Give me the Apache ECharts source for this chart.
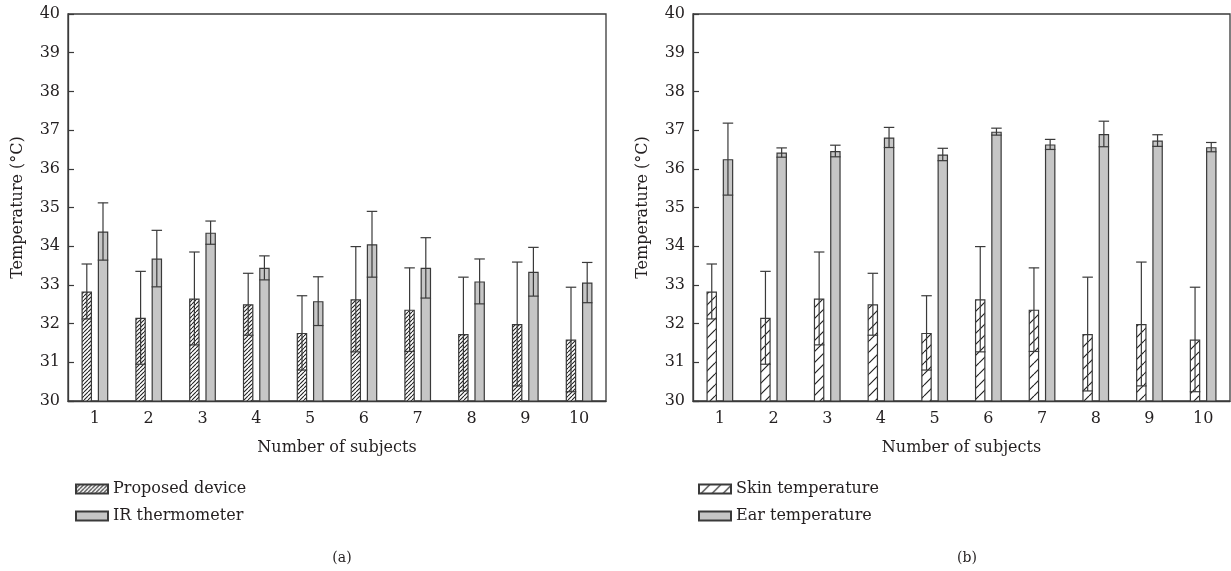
<!DOCTYPE html>
<html>
<head>
<meta charset="utf-8">
<script src="https://cdn.jsdelivr.net/npm/echarts@6/dist/echarts.min.js"></script>
<style>
  html, body { margin: 0; padding: 0; background: #fff; }
  #chart { width: 1231px; height: 571px; }
</style>
</head>
<body>
<div id="chart"></div>
<script>
// data
const subjects = ['1', '2', '3', '4', '5', '6', '7', '8', '9', '10'];
const deviceMean = [32.83, 32.15, 32.65, 32.5, 31.76, 32.63, 32.36, 31.73, 31.99, 31.59];
const deviceSd = [0.71, 1.2, 1.2, 0.8, 0.96, 1.36, 1.08, 1.47, 1.6, 1.35];
const irMean = [34.38, 33.68, 34.35, 33.44, 32.58, 34.05, 33.44, 33.09, 33.34, 33.06];
const irSd = [0.74, 0.73, 0.3, 0.31, 0.63, 0.85, 0.78, 0.58, 0.63, 0.52];
const skinMean = [32.83, 32.15, 32.65, 32.5, 31.76, 32.63, 32.36, 31.73, 31.99, 31.59];
const skinSd = [0.71, 1.2, 1.2, 0.8, 0.96, 1.36, 1.08, 1.47, 1.6, 1.35];
const earMean = [36.25, 36.42, 36.46, 36.81, 36.37, 36.96, 36.63, 36.9, 36.73, 36.56];
const earSd = [0.93, 0.12, 0.15, 0.26, 0.16, 0.09, 0.13, 0.33, 0.15, 0.12];

const FONT = 'DejaVu Serif';
const FS = 16;
const INK = '#231f20';
const LINE = '#3a3a3a';
const GREY = '#c6c6c6';
const BAR_W = 10.5;
const BAR_OFF = 8.1; // distance of each bar centre from category centre

// diagonal hatching as a canvas pattern
function hatch(step, lw) {
  const c = document.createElement('canvas');
  c.width = step; c.height = step;
  const ctx = c.getContext('2d');
  ctx.fillStyle = '#fff';
  ctx.fillRect(0, 0, step, step);
  ctx.strokeStyle = '#222';
  ctx.lineWidth = lw;
  ctx.beginPath();
  [-step, 0, step].forEach(k => {
    ctx.moveTo(k, step);
    ctx.lineTo(k + step, 0);
  });
  ctx.stroke();
  return { image: c, repeat: 'repeat' };
}
const denseHatch = hatch(4, 1.1);
const wideHatch = hatch(11, 1.2);

function errData(mean, sd) {
  return mean.map((m, i) => [i, m - sd[i], m + sd[i]]);
}

function errSeries(name, mean, sd, gi, off) {
  return {
    name: name + ' err',
    type: 'custom',
    xAxisIndex: gi,
    yAxisIndex: gi,
    z: 5,
    silent: true,
    data: errData(mean, sd),
    renderItem: function (params, api) {
      const lo = api.coord([api.value(0), api.value(1)]);
      const hi = api.coord([api.value(0), api.value(2)]);
      const x = lo[0] + off;
      const h = BAR_W / 2;
      const st = { stroke: LINE, lineWidth: 1.2 };
      return {
        type: 'group',
        children: [
          { type: 'line', shape: { x1: x, y1: lo[1], x2: x, y2: hi[1] }, style: st },
          { type: 'line', shape: { x1: x - h, y1: hi[1], x2: x + h, y2: hi[1] }, style: st },
          { type: 'line', shape: { x1: x - h, y1: lo[1], x2: x + h, y2: lo[1] }, style: st }
        ]
      };
    }
  };
}

function barSeries(name, mean, gi, color) {
  return {
    name: name,
    type: 'bar',
    xAxisIndex: gi,
    yAxisIndex: gi,
    data: mean,
    barWidth: BAR_W,
    barGap: '55%',
    itemStyle: { color: color, borderColor: LINE, borderWidth: 1.2 },
    z: 2
  };
}

function xAxis(gi) {
  return {
    type: 'category',
    gridIndex: gi,
    data: subjects,
    name: 'Number of subjects',
    nameLocation: 'middle',
    nameGap: 39,
    nameTextStyle: { fontFamily: FONT, fontSize: FS, color: INK },
    axisLine: { lineStyle: { color: LINE, width: 1.3 } },
    axisTick: { alignWithLabel: true, inside: true, length: 5, lineStyle: { color: LINE, width: 1.2 } },
    axisLabel: { fontFamily: FONT, fontSize: FS, color: INK, margin: 10 },
    splitLine: { show: false }
  };
}

function yAxis(gi) {
  return {
    type: 'value',
    gridIndex: gi,
    min: 30,
    max: 40,
    interval: 1,
    name: 'Temperature (°C)',
    nameLocation: 'middle',
    nameGap: 42,
    nameTextStyle: { fontFamily: FONT, fontSize: FS, color: INK },
    axisLine: { show: true, lineStyle: { color: LINE, width: 1.3 } },
    axisTick: { show: true, inside: true, length: 6, lineStyle: { color: LINE, width: 1.2 } },
    axisLabel: { fontFamily: FONT, fontSize: FS, color: INK, margin: 8 },
    splitLine: { show: false }
  };
}

function legend(left, names) {
  return {
    left: left,
    top: 475,
    orient: 'vertical',
    icon: 'rect',
    itemWidth: 32,
    itemHeight: 9,
    itemGap: 9,
    selectedMode: false,
    data: names,
    textStyle: { fontFamily: FONT, fontSize: FS, color: INK, lineHeight: 18 }
  };
}

const chart = echarts.init(document.getElementById('chart'), null, { renderer: 'canvas' });
chart.setOption({
  animation: false,
  backgroundColor: '#fff',
  title: [
    { text: '(a)', left: 337, top: 546, textAlign: 'center', textStyle: { fontFamily: FONT, fontSize: 14, fontWeight: 'normal', color: INK } },
    { text: '(b)', left: 962, top: 546, textAlign: 'center', textStyle: { fontFamily: FONT, fontSize: 14, fontWeight: 'normal', color: INK } }
  ],
  grid: [
    { left: 68, right: 625, top: 14, bottom: 170, show: true, borderColor: LINE, borderWidth: 1.3, backgroundColor: 'transparent' },
    { left: 693, right: 1, top: 14, bottom: 170, show: true, borderColor: LINE, borderWidth: 1.3, backgroundColor: 'transparent' }
  ],
  xAxis: [xAxis(0), xAxis(1)],
  yAxis: [yAxis(0), yAxis(1)],
  legend: [
    legend(70, ['Proposed device', 'IR thermometer']),
    legend(693, ['Skin temperature', 'Ear temperature'])
  ],
  series: [
    barSeries('Proposed device', deviceMean, 0, denseHatch),
    barSeries('IR thermometer', irMean, 0, GREY),
    errSeries('Proposed device', deviceMean, deviceSd, 0, -BAR_OFF),
    errSeries('IR thermometer', irMean, irSd, 0, BAR_OFF),
    barSeries('Skin temperature', skinMean, 1, wideHatch),
    barSeries('Ear temperature', earMean, 1, GREY),
    errSeries('Skin temperature', skinMean, skinSd, 1, -BAR_OFF),
    errSeries('Ear temperature', earMean, earSd, 1, BAR_OFF)
  ]
});
</script>
</body>
</html>
